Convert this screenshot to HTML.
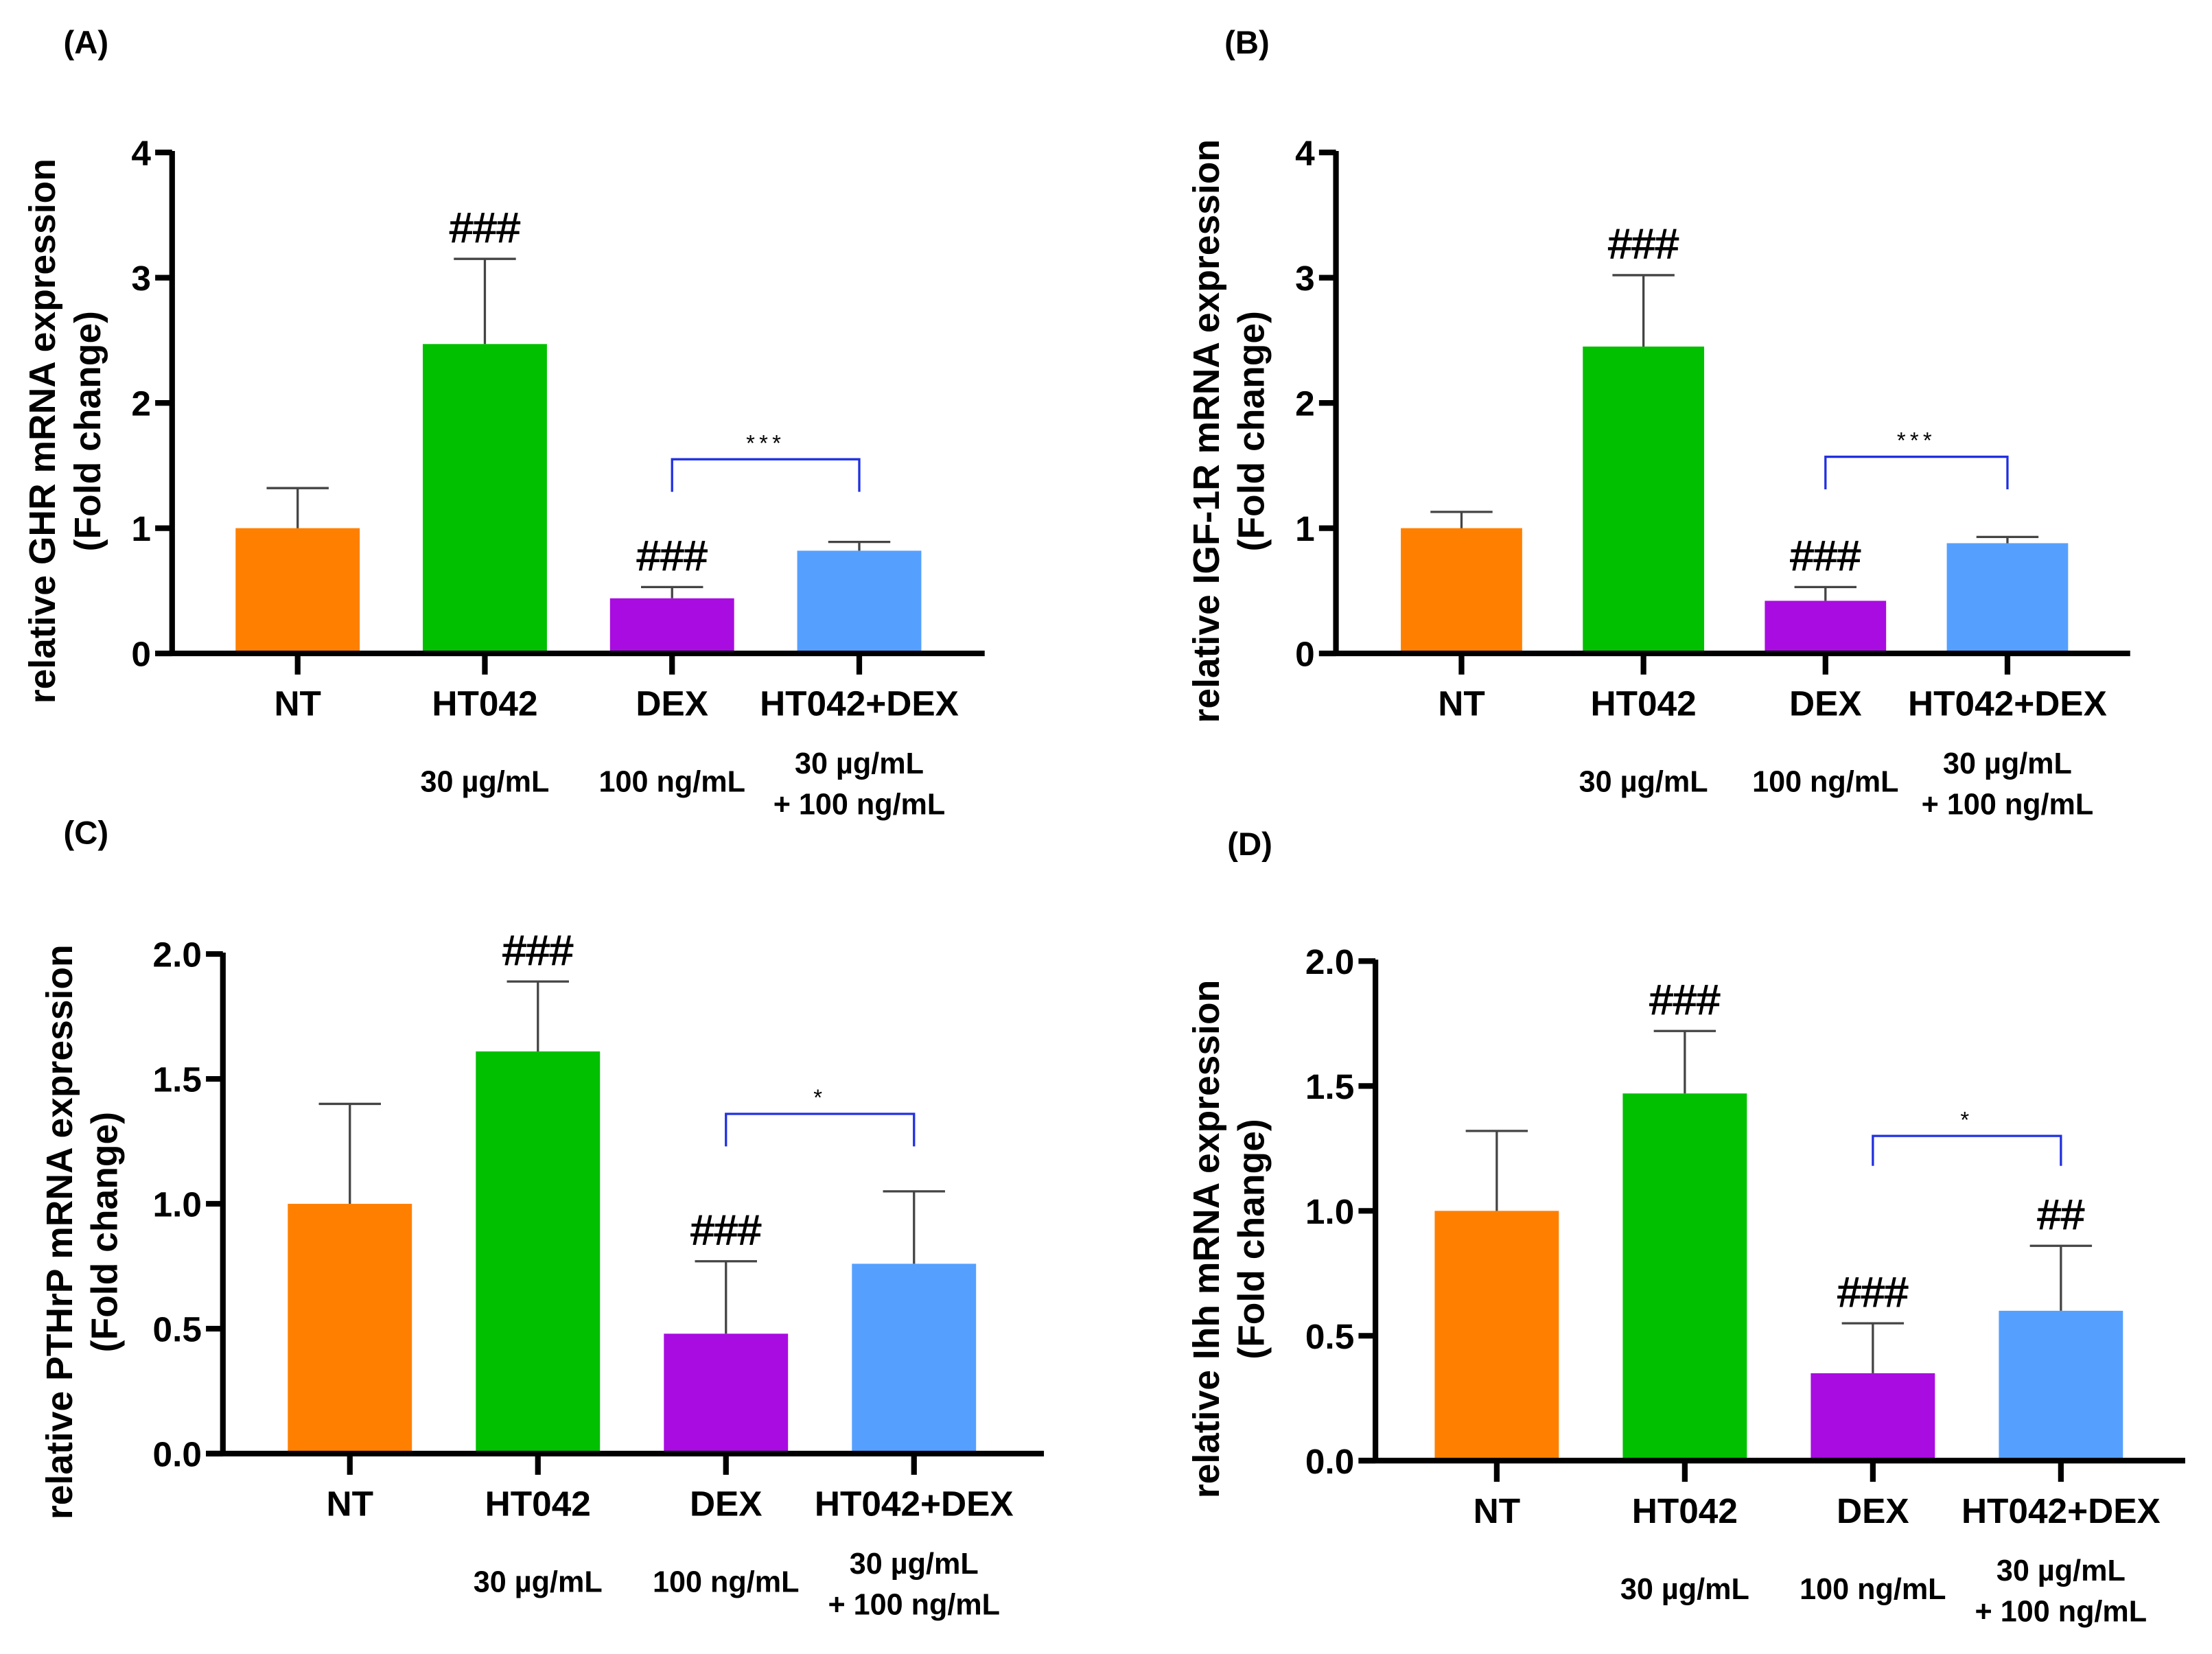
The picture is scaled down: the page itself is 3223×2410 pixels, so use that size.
<!DOCTYPE html>
<html><head><meta charset="utf-8"><style>
html,body{margin:0;padding:0;background:#fff}
svg{display:block}
text{font-family:"Liberation Sans",Arial,sans-serif}
</style></head><body>
<svg id="fig" width="3223" height="2410" viewBox="0 0 1568 1172" preserveAspectRatio="none" xmlns="http://www.w3.org/2000/svg"></svg>
<script>
const categories = ["NT","HT042","DEX","HT042+DEX"];
const subLabels = ["", "30 µg/mL", "100 ng/mL", "30 µg/mL|+ 100 ng/mL"];
const barColors = ["#ff8000","#00c000","#a80ce0","#55a0ff"];
const valuesA = [1.0, 2.47, 0.44, 0.82];
const errorsA = [1.32, 3.15, 0.53, 0.89];
const marksA = ["", "###", "###", ""];
const valuesB = [1.0, 2.45, 0.42, 0.88];
const errorsB = [1.13, 3.02, 0.53, 0.93];
const marksB = ["", "###", "###", ""];
const valuesC = [1.0, 1.61, 0.48, 0.76];
const errorsC = [1.40, 1.89, 0.77, 1.05];
const marksC = ["", "###", "###", ""];
const valuesD = [1.0, 1.47, 0.35, 0.60];
const errorsD = [1.32, 1.72, 0.55, 0.86];
const marksD = ["", "###", "###", "##"];
const ticks4 = [0,1,2,3,4];
const tickLabels4 = ["0","1","2","3","4"];
const ticks2 = [0,0.5,1,1.5,2];
const tickLabels2 = ["0.0","0.5","1.0","1.5","2.0"];

const NS="http://www.w3.org/2000/svg";
const svg=document.getElementById('fig');
function mk(tag,attrs,parent){const e=document.createElementNS(NS,tag);for(const k in attrs)e.setAttribute(k,attrs[k]);(parent||svg).appendChild(e);return e;}

function panel(cfg){
  const g=mk('g',{});
  
  
  const y=v=>cfg.y0-(v/cfg.ymax)*(cfg.y0-cfg.ytop);
  const x=i=>cfg.x0+cfg.step*i;
  const lab=mk('text',{x:cfg.labX,y:cfg.labY,'font-size':23,'font-weight':'bold'},g);
  lab.textContent='('+cfg.id.toUpperCase()+')';
  
  
  cfg.values.forEach((v,i)=>{
    const cx=x(i);
    const r=mk('rect',{x:cx-cfg.bw/2,y:y(v),width:cfg.bw,height:cfg.y0-y(v),fill:barColors[i]},g);
    
    
    const e=cfg.errors[i];
    const el=mk('path',{d:`M${cx},${y(v)}V${y(e)}M${cx-22},${y(e)}H${cx+22}`,stroke:'#444','stroke-width':1.6,fill:'none'},g);
    
    
    if(cfg.marks[i]){
      const t=mk('text',{x:cx,y:y(e)-12,'font-size':30,'text-anchor':'middle','stroke':'#000','stroke-width':0.6},g);
      t.textContent=cfg.marks[i];
      
      
    }
  });
  const ax=mk('path',{d:`M${cfg.axX},${cfg.ytop-1}V${cfg.y0}M${cfg.axX-12},${cfg.y0}H${cfg.xEnd}`,stroke:'#000','stroke-width':4,fill:'none'},g);
  
  
  cfg.ticks.forEach((t,i)=>{
    mk('line',{x1:cfg.axX-12,x2:cfg.axX,y1:y(t),y2:y(t),stroke:'#000','stroke-width':4},g);
    const tl=mk('text',{x:cfg.axX-15,y:y(t)+9,'font-size':25,'font-weight':'bold','text-anchor':'end'},g);
    tl.textContent=cfg.tickLabels[i];
    
    
  });
  categories.forEach((c,i)=>{
    const cx=x(i);
    mk('line',{x1:cx,x2:cx,y1:cfg.y0,y2:cfg.y0+15,stroke:'#000','stroke-width':4},g);
    const t=mk('text',{x:cx,y:cfg.y0+44,'font-size':25,'font-weight':'bold','text-anchor':'middle'},g);
    t.textContent=c;
    
    
    const parts=subLabels[i].split('|');
    parts.forEach((p,k)=>{
      if(!p)return;
      const s=mk('text',{x:cx,y:cfg.y0+(parts.length>1?85+k*29:98),'font-size':21,'font-weight':'bold','text-anchor':'middle'},g);
      s.textContent=p;
      
      
    });
  });
  const by=y(cfg.brTop), ba=y(cfg.brArm);
  const br=mk('path',{d:`M${x(2)},${ba}V${by}H${x(3)}V${ba}`,stroke:'#2030e0','stroke-width':1.6,fill:'none'},g);
  
  
  const st=mk('text',{x:(x(2)+x(3))/2,y:by-6,'font-size':16,'text-anchor':'middle','letter-spacing':3},g);
  st.textContent=cfg.stars;
  
  
  const cy=(cfg.ytop+cfg.y0)/2+20;
  [cfg.title1,'(Fold change)'].forEach((tt,k)=>{
    const tx=cfg.titleX+k*32;
    const t=mk('text',{x:tx,y:cy,'font-size':26,'font-weight':'bold','text-anchor':'middle',transform:`rotate(-90 ${tx} ${cy})`},g);
    t.textContent=tt;
    
    
  });
}

panel({id:'a',values:valuesA,errors:errorsA,marks:marksA,ticks:ticks4,tickLabels:tickLabels4,ymax:4,
  axX:122,ytop:108,y0:463,x0:211,step:132.7,bw:88,xEnd:698,labX:45,labY:38,brTop:1.55,brArm:1.29,stars:'***',
  titleX:39,title1:'relative GHR mRNA expression'});
panel({id:'b',values:valuesB,errors:errorsB,marks:marksB,ticks:ticks4,tickLabels:tickLabels4,ymax:4,
  axX:947,ytop:108,y0:463,x0:1036,step:129,bw:86,xEnd:1510,labX:868,labY:38,brTop:1.57,brArm:1.31,stars:'***',
  titleX:864,title1:'relative IGF-1R mRNA expression'});
panel({id:'c',values:valuesC,errors:errorsC,marks:marksC,ticks:ticks2,tickLabels:tickLabels2,ymax:2,
  axX:158,ytop:676,y0:1030,x0:248,step:133.3,bw:88,xEnd:740,labX:45,labY:598,brTop:1.36,brArm:1.23,stars:'*',
  titleX:51,title1:'relative PTHrP mRNA expression'});
panel({id:'d',values:valuesD,errors:errorsD,marks:marksD,ticks:ticks2,tickLabels:tickLabels2,ymax:2,
  axX:975,ytop:681,y0:1035,x0:1061,step:133.3,bw:88,xEnd:1549,labX:870,labY:606,brTop:1.30,brArm:1.18,stars:'*',
  titleX:864,title1:'relative Ihh mRNA expression'});
</script>
</body></html>
